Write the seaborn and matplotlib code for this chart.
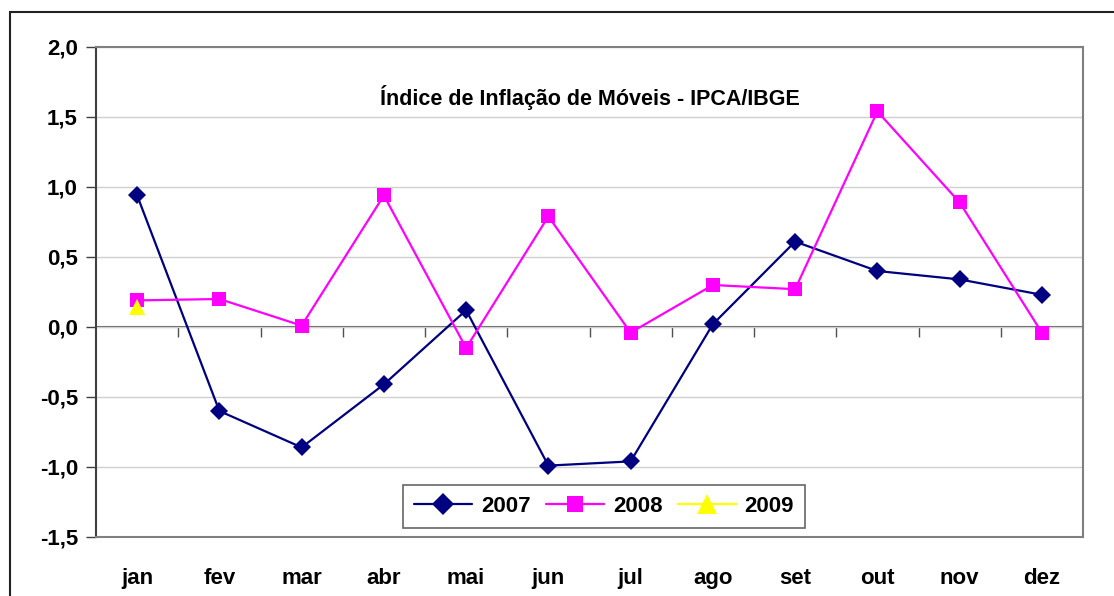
import numpy as np
import matplotlib
matplotlib.use("Agg")
import matplotlib.pyplot as plt
import matplotlib.patches as mpatches
import pandas as pd
import seaborn as sns

meses = ["jan", "fev", "mar", "abr", "mai", "jun", "jul", "ago", "set", "out", "nov", "dez"]
v2007 = [0.94, -0.60, -0.86, -0.41, 0.12, -0.99, -0.96, 0.02, 0.61, 0.40, 0.34, 0.23]
v2008 = [0.19, 0.20, 0.01, 0.94, -0.15, 0.79, -0.04, 0.30, 0.27, 1.54, 0.89, -0.04]
v2009 = [0.14]
y_ticks = [-1.5, -1.0, -0.5, 0.0, 0.5, 1.0, 1.5, 2.0]

rows = []
for ano, vals in [("2007", v2007), ("2008", v2008), ("2009", v2009)]:
    for i, v in enumerate(vals):
        rows.append({"ano": ano, "mes": i, "valor": v})
df = pd.DataFrame(rows)

sns.set_style("white")
plt.rcParams["font.family"] = ["Liberation Sans", "DejaVu Sans"]
plt.rcParams["font.weight"] = "bold"
plt.rcParams["text.color"] = "black"
plt.rcParams["xtick.color"] = "black"
plt.rcParams["ytick.color"] = "black"

fig = plt.figure(figsize=(11.14, 5.96), dpi=100)
ax = fig.add_axes([96 / 1114, 59 / 596, 987 / 1114, 490 / 596])

# outer chart frame
fig.patches.append(mpatches.Rectangle((10 / 1114, -0.1), 1.2, (584 / 596) + 0.1,
                                      transform=fig.transFigure, fill=False,
                                      edgecolor="#222222", linewidth=1.5))

cores = {"2007": "#000080", "2008": "#FF00FF", "2009": "#FFFF00"}
marcadores = {"2007": "D", "2008": "s", "2009": "^"}
sns.lineplot(data=df, x="mes", y="valor", hue="ano", style="ano",
             palette=cores, markers=marcadores, dashes=False,
             markersize=9.5, linewidth=1.6, markeredgewidth=0, ax=ax)

# triangle of 2009 a bit larger, like the original
for ln in ax.lines:
    if ln.get_marker() == "^":
        ln.set_markersize(12)
        ln.set_zorder(5)

ax.set_xlim(-0.5, 11.5)
ax.set_ylim(-1.5, 2.0)
ax.set_yticks(y_ticks)
ax.set_yticklabels([f"{t:.1f}".replace(".", ",") for t in y_ticks], fontsize=16, fontweight="bold")
ax.set_xticks(range(12))
ax.set_xticklabels(meses, fontsize=16, fontweight="bold")
ax.tick_params(axis="x", length=0, pad=22)
ax.tick_params(axis="y", direction="out", length=7, width=1, color="#404040", left=True, pad=6)
ax.set_xlabel("")
ax.set_ylabel("")
ax.yaxis.grid(True, color="#d0d0d0", linewidth=1)
for s in ["top", "right", "bottom"]:
    ax.spines[s].set_color("#808080")
    ax.spines[s].set_linewidth(1.5)
ax.spines["left"].set_color("#404040")
ax.spines["left"].set_linewidth(1.5)

# category axis crossing at zero
sec = ax.secondary_xaxis(1.5 / 3.5)
sec.set_xticks(np.arange(0.5, 11.5, 1.0))
sec.set_xticklabels([])
sec.tick_params(direction="out", length=7, width=1, color="#505050")
sec.spines["bottom"].set_color("#606060")
sec.spines["bottom"].set_linewidth(1.5)

ax.text(5.5, 1.64, "Índice de Inflação de Móveis - IPCA/IBGE", ha="center", va="center",
        fontsize=15.5, fontweight="bold")

leg = ax.legend(loc="center", bbox_to_anchor=(0.515, 0.063), ncol=3, fontsize=16,
                frameon=True, fancybox=False, handlelength=2.6, columnspacing=0.7,
                handletextpad=0.4, borderpad=0.5, markerscale=1.15)
leg.get_frame().set_edgecolor("#404040")
leg.get_frame().set_linewidth(1.2)
for t in leg.get_texts():
    t.set_fontweight("bold")

fig.savefig("out.png", dpi=100)
